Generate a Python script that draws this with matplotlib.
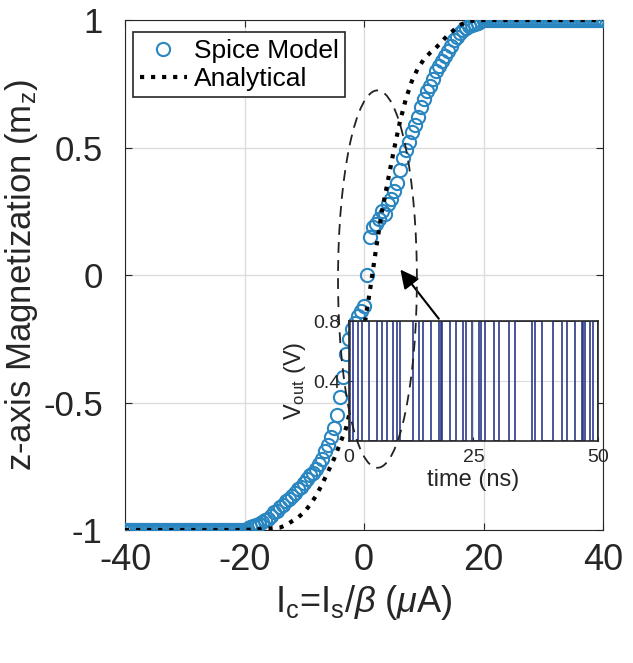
import numpy as np
import matplotlib
matplotlib.use('Agg')
import matplotlib.pyplot as plt
from matplotlib.patches import Ellipse

plt.rcParams['font.family'] = ['Liberation Sans', 'DejaVu Sans']
plt.rcParams['mathtext.fontset'] = 'custom'
plt.rcParams['mathtext.rm'] = 'Liberation Sans'
plt.rcParams['mathtext.it'] = 'Liberation Sans:italic'

# Spice model sweep, 0.5 uA steps
spice_x = np.arange(-40, 40.5, 0.5)
spice_y = ([-1.0] * 40 +
           [-1.0, -0.995, -0.99, -0.985, -0.98, -0.975, -0.97, -0.96, -0.955, -0.945,
            -0.93, -0.925, -0.91, -0.90, -0.885, -0.88, -0.865, -0.855, -0.84, -0.83,
            -0.815, -0.80, -0.785, -0.775, -0.76, -0.74, -0.72, -0.69, -0.665, -0.635,
            -0.60, -0.55, -0.48, -0.40, -0.31, -0.25, -0.21, -0.19, -0.16, -0.14,
            -0.12, 0.0, 0.15, 0.19, 0.20, 0.22, 0.25, 0.24, 0.28, 0.30,
            0.33, 0.36, 0.41, 0.46, 0.49, 0.52, 0.56, 0.59, 0.62, 0.66,
            0.69, 0.72, 0.74, 0.77, 0.80, 0.82, 0.84, 0.86, 0.88, 0.90,
            0.92, 0.935, 0.95, 0.96, 0.97, 0.975, 0.98, 0.985, 0.99, 0.995,
            1.0] +
           [1.0] * 40)

# analytical curve
ana_x = [-40, -20, -16, -14, -13, -12, -11, -10, -9, -8, -7, -6, -5, -4, -3, -2, -1,
         0, 1, 2, 3, 4, 5, 6, 7, 8, 9, 10, 11, 12, 13, 14, 15, 16, 17, 18, 20, 40]
ana_y = [-1, -1, -0.995, -0.99, -0.98, -0.965, -0.95, -0.93, -0.90, -0.865, -0.82,
         -0.77, -0.72, -0.66, -0.60, -0.50, -0.37, -0.21, -0.06, 0.10, 0.25, 0.37,
         0.49, 0.60, 0.69, 0.76, 0.81, 0.845, 0.87, 0.89, 0.915, 0.94, 0.96, 0.98,
         0.99, 0.997, 1, 1]

# inset: switching times of V_out (ns)
switch_t = [0.3, 0.9, 1.9, 2.6, 4.0, 5.6, 6.7, 7.6, 8.8, 9.6, 10.2, 12.8, 14.1, 14.9,
            16.5, 18.0, 18.4, 18.7, 20.2, 21.4, 22.8, 23.4, 24.8, 26.1, 26.6, 27.4,
            29.2, 30.1, 32.1, 33.4, 36.7, 37.4, 38.7, 41.0, 42.7, 43.7, 45.4, 46.7,
            47.0, 47.3, 48.3, 49.0]
v_high = 0.8

fig = plt.figure(figsize=(6.33, 6.63), dpi=100)
ax = fig.add_axes([0.1975, 0.2006, 0.7551, 0.7692])

ax.plot(spice_x, spice_y, 'o', ms=9.5, mfc='none', mec='#2a86c0', mew=1.5,
        label='Spice Model', zorder=3)
ax.plot(ana_x, ana_y, ':', color='black', lw=3, label='Analytical', zorder=4)

ax.set_xlim(-40, 40)
ax.set_ylim(-1, 1)
ax.set_xticks([-40, -20, 0, 20, 40])
ax.set_yticks([-1, -0.5, 0, 0.5, 1])
ax.set_yticklabels(['-1', '-0.5', '0', '0.5', '1'])
ax.set_xticklabels(['-40', '-20', '0', '20', '40'])
ax.grid(True, color='#dcdcdc', lw=1)
ax.set_axisbelow(True)
ax.tick_params(direction='in', labelsize=26, colors='#262626', length=5,
               top=True, right=True)
ax.tick_params(axis='x', pad=9)
ax.tick_params(axis='y', labelsize=25, pad=16)
for s in ax.spines.values():
    s.set_color('#262626')
ax.set_xlabel(r'I$_\mathrm{c}$=I$_\mathrm{s}$/$\beta$ ($\mu$A)', fontsize=26,
              color='#262626', labelpad=4)
ax.set_ylabel(r'z-axis Magnetization (m$_\mathrm{z}$)', fontsize=25, color='#262626')
ax.yaxis.set_label_coords(-0.178, 0.5)

leg = ax.legend(loc='upper left', bbox_to_anchor=(0.017, 0.976), fontsize=19,
                handlelength=1.8, handletextpad=0.25, labelspacing=0.15,
                borderpad=0.25, borderaxespad=0, fancybox=False, framealpha=1,
                edgecolor='#262626')
leg.get_frame().set_linewidth(1.2)

ax.annotate('', xy=(5.8, 0.03), xytext=(12.8, -0.18),
            arrowprops=dict(arrowstyle='-|>', color='black', lw=1.5,
                            mutation_scale=28))

# inset axes
ins = fig.add_axes([0.5513, 0.3348, 0.3934, 0.1810])
sig_t = [0] + switch_t + [50]
sig_v = [v_high if i % 2 == 0 else 0 for i in range(len(sig_t))]
ins.step(sig_t, sig_v, where='post', color='#2b3a8a', lw=1.2)
ins.set_xlim(0, 50)
ins.set_ylim(0, 0.8)
ins.set_xticks([0, 25, 50])
ins.set_yticks([0.4, 0.8])
ins.set_yticklabels(['0.4', '0.8'])
ins.grid(True, color='#dcdcdc', lw=0.8)
ins.tick_params(direction='in', labelsize=14, colors='#262626', pad=6, length=3)
for s in ins.spines.values():
    s.set_color('#262626')
    s.set_linewidth(1.2)
ins.set_xlabel('time (ns)', fontsize=17, color='#262626', labelpad=2)
ins.set_ylabel(r'V$_\mathrm{out}$ (V)', fontsize=17, color='#262626', labelpad=4)

# dashed ellipse drawn above the inset
ell = Ellipse((2.25, -0.016), 13.2, 1.48, fill=False, ls=(0, (6, 4)), lw=1.3,
              ec='#222222', transform=ax.transData, clip_on=False, zorder=5)
fig.add_artist(ell)

fig.savefig('out.png', dpi=100)
